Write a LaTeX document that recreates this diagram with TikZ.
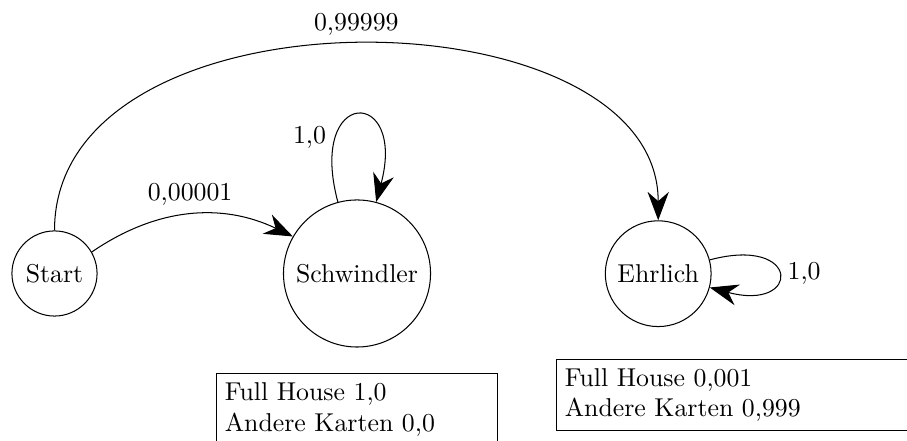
\documentclass[tikz,border=0pt]{standalone}
\usetikzlibrary{arrows.meta}
\begin{document}
\begin{tikzpicture}[x=0.3876pt,y=0.3876pt,
  state/.style={draw,circle,inner sep=0pt},
  arr/.style={-{Stealth[length=11pt]}},
  infobox/.style={draw,rectangle,align=left,anchor=north west,inner sep=3.33pt}]
\useasboundingbox (0,0) rectangle (907,441);
\clip (0,0) rectangle (907,441);
\node[state,minimum size=33pt] (s) at (54.5,167.5) {Start};
\node[state,minimum size=57pt] (w) at (357,167.5) {Schwindler};
\node[state,minimum size=41pt] (e) at (658.2,167.3) {Ehrlich};
\node[infobox,text width=3.6cm] (b1) at (215.7,67.7) {Full House 1,0\\Andere Karten 0,0};
\node[infobox,text width=5cm] (b2) at (555.7,82) {Full House 0,001\\Andere Karten 0,999};
\draw[arr] (s) to[bend left=30] node[above] {0,00001} (w);
\draw[arr] (s.north) .. controls +(0,250) and +(0,232) .. node[above] {0,99999} (e.north);
\draw[arr] (w) to[loop above] node[left,pos=0.25] {1,0} (w);
\draw[arr] (e) to[loop right,looseness=8.8] node[right] {1,0} (e);
\end{tikzpicture}
\end{document}
